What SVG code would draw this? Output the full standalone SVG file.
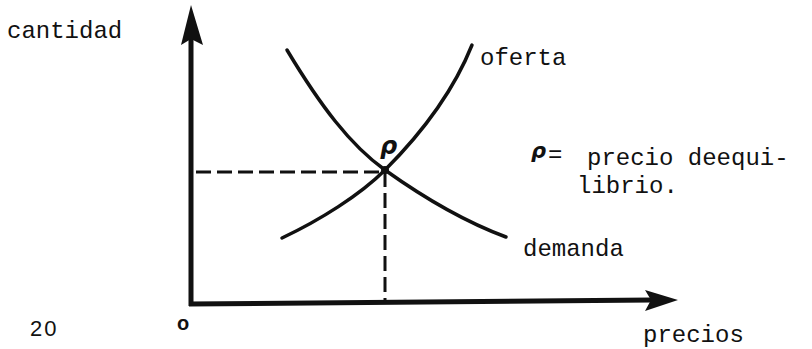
<svg xmlns="http://www.w3.org/2000/svg" width="812" height="349" viewBox="0 0 812 349">
  <style>
    .tw { font-family: "Liberation Mono", "Courier New", monospace; font-size: 24px; fill: #111; }
    .sans { font-family: "Liberation Sans", Arial, sans-serif; fill: #111; }
    .rho { font-family: "DejaVu Sans", "Liberation Sans", sans-serif; font-style: italic; font-weight: bold; fill: #111; }
    .axis { stroke: #111; stroke-width: 5; fill: none; }
    .curve { stroke: #111; stroke-width: 3.5; fill: none; stroke-linecap: round; }
    .dash { stroke: #111; stroke-width: 3; fill: none; stroke-dasharray: 15 6; }
    .head { fill: #111; }
  </style>
  <rect width="812" height="349" fill="#fff"/>

  <g id="axes">
    <line class="axis" x1="191" y1="306" x2="191" y2="38"/>
    <polygon class="head" points="191,5 203,45 191,39 181,45"/>
    <line class="axis" x1="189" y1="304" x2="652" y2="300"/>
    <polygon class="head" points="678,300 645,290 651,300 645,311"/>
  </g>

  <g id="connectors">
    <path class="dash" d="M196,172 H385"/>
    <path class="dash" d="M385,172 V302"/>
  </g>

  <g id="demanda-curve">
    <path class="curve" d="M287,50 C320,105 350,145 385,170 C420,195 460,220 506,237"/>
  </g>
  <g id="oferta-curve">
    <path class="curve" d="M282,238 C320,220 360,195 385,170 C410,145 450,100 472,45"/>
  </g>

  <g id="equilibrium">
    <circle cx="385" cy="170" r="4" fill="#111"/>
    <text class="rho" x="380" y="154" font-size="24">ρ</text>
  </g>

  <g id="labels">
    <text class="tw" x="7" y="38">cantidad</text>
    <text class="tw" x="480" y="65">oferta</text>
    <text class="tw" x="523" y="256">demanda</text>
    <text class="tw" x="643" y="342">precios</text>
    <text class="sans" x="30" y="336" font-size="22" letter-spacing="2">20</text>
    <text class="sans" x="177" y="330" font-size="20" font-weight="bold">o</text>
  </g>

  <g id="legend">
    <text class="rho" x="531" y="158" font-size="21">ρ</text>
    <text class="tw" x="548" y="162">=</text>
    <text class="tw" x="587" y="165">precio deequi-</text>
    <text class="tw" x="577" y="193">librio.</text>
  </g>
</svg>
